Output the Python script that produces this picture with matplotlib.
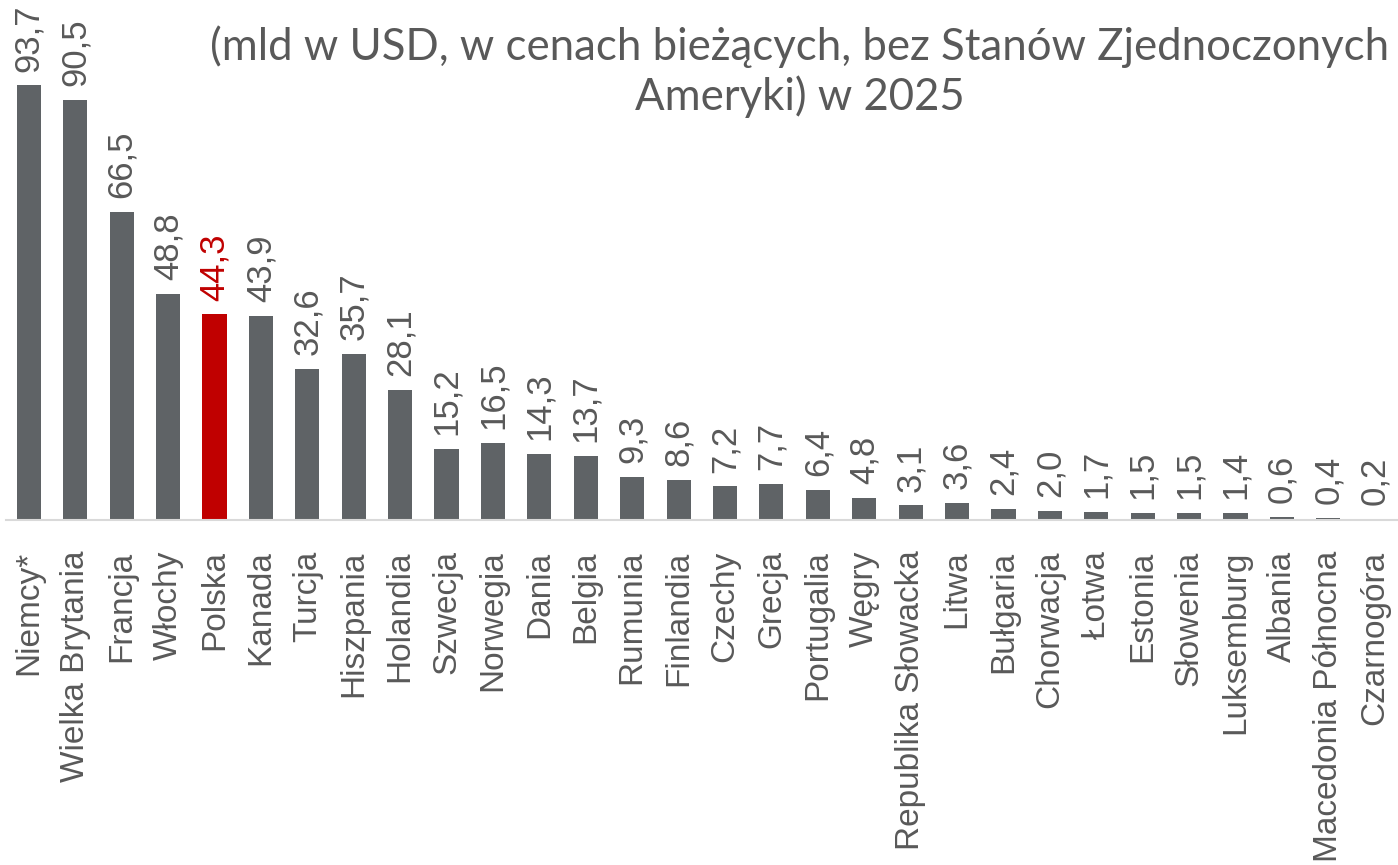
import numpy as np
import matplotlib.pyplot as plt

countries = ["Niemcy*", "Wielka Brytania", "Francja", "Włochy", "Polska", "Kanada",
             "Turcja", "Hiszpania", "Holandia", "Szwecja", "Norwegia", "Dania",
             "Belgia", "Rumunia", "Finlandia", "Czechy", "Grecja", "Portugalia",
             "Węgry", "Republika Słowacka", "Litwa", "Bułgaria", "Chorwacja",
             "Łotwa", "Estonia", "Słowenia", "Luksemburg", "Albania",
             "Macedonia Północna", "Czarnogóra"]
values = [93.7, 90.5, 66.5, 48.8, 44.3, 43.9, 32.6, 35.7, 28.1, 15.2, 16.5, 14.3,
          13.7, 9.3, 8.6, 7.2, 7.7, 6.4, 4.8, 3.1, 3.6, 2.4, 2.0, 1.7, 1.5, 1.5,
          1.4, 0.6, 0.4, 0.2]
highlight = "Polska"

title_lines = ["(mld w USD, w cenach bieżących, bez Stanów Zjednoczonych",
               "Ameryki) w 2025"]

plt.rcParams['font.family'] = ['Liberation Sans', 'DejaVu Sans']
text_grey = "#595959"
bar_grey = "#5f6366"
red = "#c00000"

fig = plt.figure(figsize=(13.98, 8.65), dpi=100)
ax = fig.add_axes([0.004, 0.399, 0.996, 0.536])

x = np.arange(len(countries))
colors = [red if c == highlight else bar_grey for c in countries]
ax.bar(x, values, width=0.52, color=colors)

for xi, v, c in zip(x, values, countries):
    col = red if c == highlight else text_grey
    ax.text(xi, v + 3.0, f"{v:.1f}".replace(".", ","), rotation=90, ha="center",
            va="bottom", fontsize=25, color=col, clip_on=False)

ax.set_xlim(-0.5, len(countries) - 0.5)
ax.set_ylim(0, 100)
ax.set_xticks(x)
ax.set_xticklabels(countries, rotation=90, fontsize=24, color=text_grey)
ax.tick_params(axis="x", length=0, pad=22)
ax.set_yticks([])
for s in ["top", "right", "left"]:
    ax.spines[s].set_visible(False)
ax.spines["bottom"].set_color("#d9d9d9")
ax.spines["bottom"].set_linewidth(1.5)

for i, line in enumerate(title_lines):
    fig.text(0.572, 1 - (47 + 50 * i) / 865, line, ha="center", va="center",
             fontsize=31.5, color=text_grey, family=['Lato', 'DejaVu Sans'])

fig.savefig("out.png", dpi=100)
